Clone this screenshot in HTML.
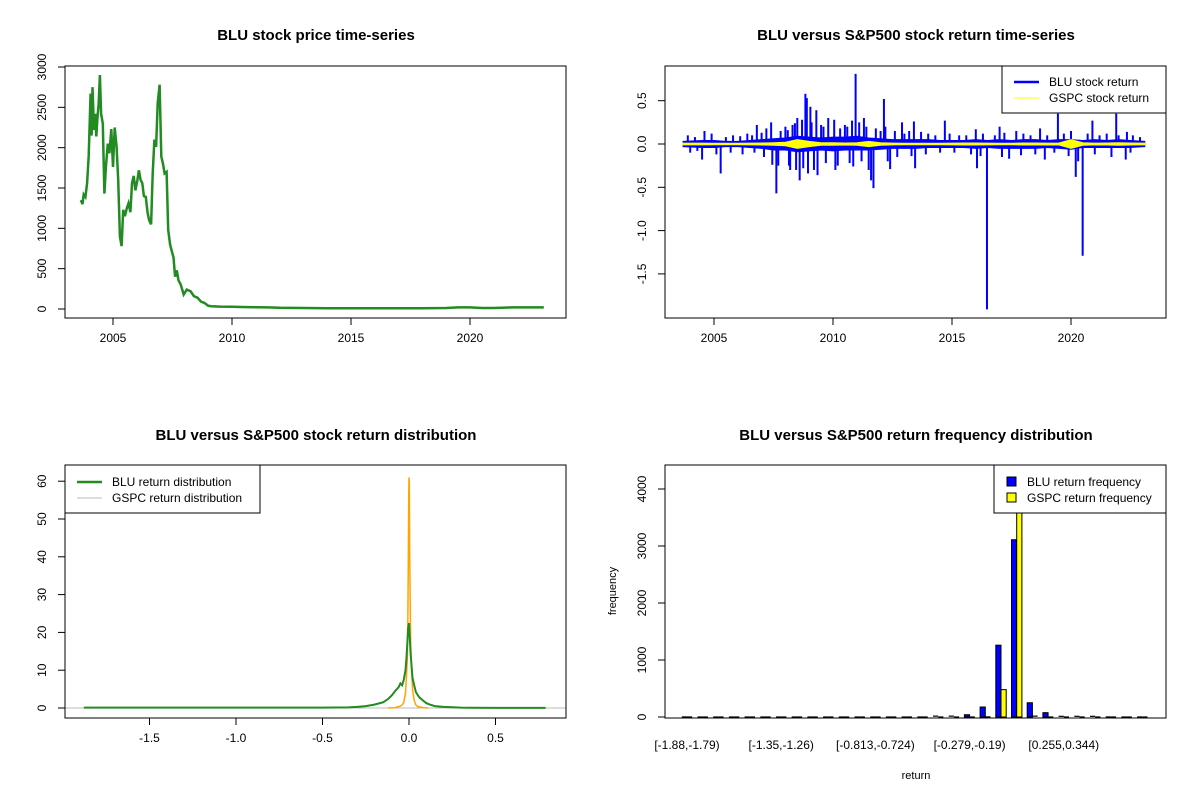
<!DOCTYPE html>
<html><head><meta charset="utf-8"><style>
body{margin:0;background:#fff}
svg{display:block;font-family:"Liberation Sans",Arial,sans-serif}
</style></head><body>
<svg id="c" width="1200" height="800" viewBox="0 0 1200 800"></svg>
<script>
// ---------- data ----------
const priceYears=[2003.65,2003.72,2003.77,2003.84,2003.91,2003.98,2004.06,2004.1,2004.14,2004.2,2004.25,2004.3,2004.35,2004.4,2004.45,2004.5,2004.57,2004.64,2004.7,2004.78,2004.85,2004.93,2005.0,2005.07,2005.15,2005.22,2005.29,2005.36,2005.43,2005.5,2005.58,2005.65,2005.73,2005.8,2005.87,2005.94,2006.02,2006.09,2006.16,2006.23,2006.3,2006.38,2006.45,2006.52,2006.6,2006.67,2006.74,2006.81,2006.88,2006.96,2007.03,2007.1,2007.17,2007.25,2007.32,2007.4,2007.46,2007.54,2007.61,2007.68,2007.75,2007.85,2007.97,2008.1,2008.26,2008.4,2008.55,2008.7,2008.84,2009.0,2009.13,2009.5,2010.0,2010.4,2011.0,2011.5,2012.0,2013.0,2014.0,2015.0,2016.0,2017.0,2018.0,2019.0,2019.5,2020.0,2020.5,2021.0,2021.8,2022.5,2023.1];
const priceVals=[1350,1300,1420,1390,1560,1900,2670,2150,2750,2220,2420,2140,2380,2550,2900,2420,2300,1430,1760,2050,1930,2230,1760,2250,2010,1600,900,780,1230,1150,1250,1310,1200,1560,1650,1470,1590,1720,1600,1560,1400,1390,1200,1100,1050,1680,2100,2010,2550,2780,1890,1800,1680,1700,980,800,730,640,400,480,360,300,180,240,220,160,140,90,75,40,35,30,28,25,22,20,15,12,10,10,10,10,10,12,20,20,12,12,20,20,20];

const retSpikeYears=[2010.95,2008.84,2008.9,2012.14,2009.05,2007.62,2005.28,2016.47,2020.49,2020.2,2011.7,2008.6,2019.45,2021.9,2016.05,2007.4,2010.8,2010.05,2013.4,2014.7,2020.9,2004.6,2006.8,2004.5,2011.6,2007.45,2010.1,2010.85,2013.45,2018.9,2022.3,2012.4,2017.4,2009.3,2008.4,2008.95,2009.35,2017.0,2018.7,2016.0,2022.35,2009.8,2011.3,2008.2,2012.9,
2003.9,2004.2,2004.9,2005.5,2005.8,2006.1,2006.4,2006.6,2007.0,2007.2,2007.8,2008.0,2008.1,2008.3,2008.5,2008.7,2009.1,2009.5,2009.6,2010.3,2010.5,2010.6,2011.1,2011.4,2011.8,2012.0,2012.2,2012.6,2013.0,2013.2,2013.7,2014.0,2014.3,2014.9,2015.3,2015.6,2016.3,2016.8,2017.2,2017.7,2018.0,2018.3,2019.0,2019.7,2020.0,2020.7,2021.2,2021.5,2022.0,2022.6,2022.9,
2004.0,2004.3,2005.1,2005.7,2006.2,2006.7,2007.1,2007.7,2008.15,2008.45,2008.75,2009.2,2009.7,2010.2,2010.7,2011.2,2011.5,2012.3,2012.7,2013.3,2013.9,2014.5,2015.1,2015.8,2016.2,2017.1,2017.9,2018.5,2019.3,2019.9,2020.3,2021.0,2021.7,2022.5];
const retSpikeVals=[0.81,0.58,0.53,0.52,0.43,-0.57,-0.34,-1.91,-1.29,-0.38,-0.51,-0.42,0.35,0.35,-0.28,0.25,0.27,0.28,0.26,0.27,0.27,0.15,0.22,-0.18,-0.42,-0.24,-0.30,-0.26,-0.28,-0.18,-0.18,-0.29,-0.17,0.39,0.24,-0.34,-0.36,0.20,0.18,0.17,0.14,0.3,0.3,-0.3,0.25,
0.1,0.08,0.12,0.08,0.1,0.09,0.12,0.1,0.13,0.18,0.15,0.2,0.16,0.22,0.3,0.28,0.25,0.22,0.2,0.18,0.22,0.2,0.25,0.2,0.18,0.15,0.2,0.15,0.12,0.15,0.14,0.12,0.1,0.12,0.1,0.1,0.12,0.1,0.13,0.15,0.12,0.1,0.1,0.12,0.15,0.12,0.1,0.12,0.1,0.1,0.08,
-0.1,-0.08,-0.12,-0.1,-0.12,-0.1,-0.15,-0.25,-0.25,-0.3,-0.28,-0.3,-0.22,-0.25,-0.22,-0.2,-0.3,-0.2,-0.15,-0.14,-0.12,-0.1,-0.1,-0.12,-0.14,-0.15,-0.13,-0.12,-0.1,-0.14,-0.2,-0.12,-0.15,-0.1];
const bandYears=[2003.7,2004.5,2005.0,2005.5,2006.0,2006.5,2007.0,2007.5,2008.0,2008.5,2009.0,2009.5,2010.0,2010.5,2011.0,2011.5,2012.0,2012.5,2013.0,2013.5,2014.0,2014.5,2015.0,2015.5,2016.0,2016.5,2017.0,2017.5,2018.0,2018.5,2019.0,2019.5,2020.0,2020.5,2021.0,2021.5,2022.0,2022.5,2023.1];
const bandHi=[0.03,0.04,0.04,0.03,0.03,0.04,0.05,0.06,0.07,0.09,0.08,0.07,0.08,0.08,0.09,0.07,0.06,0.05,0.05,0.05,0.05,0.04,0.04,0.04,0.05,0.04,0.05,0.04,0.05,0.05,0.04,0.05,0.05,0.04,0.05,0.04,0.05,0.04,0.03];
const bandLo=[-0.03,-0.04,-0.04,-0.03,-0.03,-0.04,-0.05,-0.07,-0.07,-0.09,-0.08,-0.07,-0.08,-0.07,-0.07,-0.07,-0.06,-0.05,-0.05,-0.05,-0.04,-0.04,-0.04,-0.04,-0.05,-0.04,-0.05,-0.05,-0.05,-0.05,-0.04,-0.05,-0.06,-0.04,-0.04,-0.04,-0.04,-0.04,-0.03];
const gspcAmp=[0.01,0.01,0.008,0.008,0.008,0.01,0.012,0.015,0.02,0.05,0.03,0.015,0.015,0.012,0.015,0.03,0.015,0.01,0.008,0.008,0.008,0.008,0.01,0.012,0.012,0.01,0.008,0.008,0.012,0.012,0.01,0.012,0.05,0.015,0.01,0.012,0.015,0.012,0.01];

const densX=[-1.88,-0.5,-0.35,-0.3,-0.25,-0.2,-0.15,-0.12,-0.1,-0.08,-0.06,-0.05,-0.04,-0.03,-0.02,-0.015,-0.01,-0.005,0,0.005,0.01,0.015,0.02,0.03,0.04,0.05,0.06,0.08,0.1,0.12,0.15,0.2,0.25,0.3,0.35,0.5,0.79];
const bluDens=[0.1,0.1,0.15,0.3,0.5,0.9,1.5,2.4,3.3,4.5,5.5,6.5,6.0,7.5,10,13,17,21,22.5,18,14,11,8,6,4.2,3.5,2.8,2.0,1.3,0.9,0.5,0.3,0.2,0.1,0.05,0.02,0.02];
const gspcX=[-0.12,-0.08,-0.05,-0.04,-0.03,-0.02,-0.015,-0.01,-0.007,-0.004,-0.002,0,0.002,0.004,0.007,0.01,0.015,0.02,0.03,0.04,0.05,0.08,0.11];
const gspcDens=[0,0.1,0.5,0.8,1.5,4,8,13,22,38,55,61,60,41,28,17,10,5,2,0.8,0.4,0.1,0];

const binLabels=["[-1.88,-1.79)","[-1.35,-1.26)","[-0.813,-0.724)","[-0.279,-0.19)","[0.255,0.344)"];
const bluFreq=[1,0,0,0,0,0,0,0,0,0,0,0,0,0,0,0,15,15,40,175,1260,3110,250,76,12,12,12,1,0,1];
const gspcFreq=[0,0,0,0,0,0,0,0,0,0,0,0,0,0,0,0,0,0,0,2,480,4900,15,0,0,0,0,0,0,0];

// ---------- helpers ----------
const svg=document.getElementById('c');
const NS='http://www.w3.org/2000/svg';
function mk(tag,attrs,parent){const e=document.createElementNS(NS,tag);for(const k in attrs)e.setAttribute(k,attrs[k]);(parent||svg).appendChild(e);return e;}
function txt(s,x,y,opt,name){const t=mk('text',Object.assign({x:x,y:y,'font-size':12,fill:'#000','text-anchor':'middle'},opt||{}));t.textContent=s;


return t;}
function box(x0,y0,x1,y1,name){const r=mk('rect',{x:x0,y:y0,width:x1-x0,height:y1-y0,fill:'none',stroke:'#000','stroke-width':1});


return r;}
function xTicks(vals,labels,sx,yb,name){vals.forEach((v,i)=>{const x=sx(v);const l=mk('line',{x1:x,x2:x,y1:yb,y2:yb+7,stroke:'#000'});


txt(labels[i],x,yb+24,{},name+'-label');});}
function yTicks(vals,labels,sy,xl,name){vals.forEach((v,i)=>{const y=sy(v);const l=mk('line',{x1:xl-7,x2:xl,y1:y,y2:y,stroke:'#000'});


txt(labels[i],xl-19,y,{transform:`rotate(-90 ${xl-19} ${y})`},name+'-label');});}
function poly(xs,ys,sx,sy,stroke,w,name){const p=mk('polyline',{points:xs.map((x,i)=>sx(x).toFixed(1)+','+sy(ys[i]).toFixed(1)).join(' '),fill:'none',stroke:stroke,'stroke-width':w,'stroke-linejoin':'miter'});


return p;}
function title(s,x,y,name){txt(s,x,y,{'font-size':15,'font-weight':'bold'},name);}

// ---------- panel 1: price ----------
{const sx=y=>113+(y-2005)*23.8, sy=v=>309-v*242/3000;
title('BLU stock price time-series',316,40,'price-title');
poly(priceYears,priceVals,sx,sy,'#228B22',2.5,'price-line');
box(65,66,566,318,'price-plot-frame');
xTicks([2005,2010,2015,2020],['2005','2010','2015','2020'],sx,318,'price-x-axis');
yTicks([0,500,1000,1500,2000,2500,3000],['0','500','1000','1500','2000','2500','3000'],sy,65,'price-y-axis');}

// ---------- panel 2: returns ----------
{const sx=y=>714+(y-2005)*23.8, sy=v=>144-v*86.6;
title('BLU versus S&P500 stock return time-series',916,40,'return-title');
const ptsB=bandYears.map((y,i)=>sx(y)+','+sy(bandHi[i])).concat(bandYears.slice().reverse().map((y,j)=>{const i=bandYears.length-1-j;return sx(y)+','+sy(bandLo[i]);}));
const b=mk('polygon',{points:ptsB.join(' '),fill:'#0000ff',stroke:'#0000ff','stroke-width':1});


retSpikeYears.forEach((y,i)=>{const l=mk('line',{x1:sx(y),x2:sx(y),y1:sy(0),y2:sy(retSpikeVals[i]),stroke:'#0000ff','stroke-width':2});

});
const ptsG=bandYears.map((y,i)=>sx(y)+','+sy(gspcAmp[i])).concat(bandYears.slice().reverse().map((y,j)=>{const i=bandYears.length-1-j;return sx(y)+','+sy(-gspcAmp[i]);}));
const g=mk('polygon',{points:ptsG.join(' '),fill:'#ffff00',stroke:'#ffff00','stroke-width':1});


box(665,66,1166,318,'return-plot-frame');
xTicks([2005,2010,2015,2020],['2005','2010','2015','2020'],sx,318,'return-x-axis');
yTicks([-1.5,-1,-0.5,0,0.5],['-1.5','-1.0','-0.5','0.0','0.5'],sy,665,'return-y-axis');
const lg=mk('rect',{x:1002,y:66,width:164,height:47,fill:'#fff',stroke:'#000'});


mk('line',{x1:1014,x2:1039,y1:82,y2:82,stroke:'#0000ff','stroke-width':2.5});
txt('BLU stock return',1049,86,{'text-anchor':'start'},'legend-blu-return');
mk('line',{x1:1014,x2:1039,y1:98,y2:98,stroke:'#ffff00','stroke-width':1});
txt('GSPC stock return',1049,102,{'text-anchor':'start'},'legend-gspc-return');}

// ---------- panel 3: density ----------
{const sx=v=>409+v*173, sy=v=>708-v*3.78;
title('BLU versus S&P500 stock return distribution',316,440,'density-title');
const gl=mk('line',{x1:65,x2:566,y1:sy(0),y2:sy(0),stroke:'#bbb'});


poly(gspcX,gspcDens,sx,sy,'#FFA500',1.5,'gspc-density-line');
poly(densX,bluDens,sx,sy,'#228B22',2,'blu-density-line');
box(65,465,566,718,'density-plot-frame');
xTicks([-1.5,-1,-0.5,0,0.5],['-1.5','-1.0','-0.5','0.0','0.5'],sx,718,'density-x-axis');
yTicks([0,10,20,30,40,50,60],['0','10','20','30','40','50','60'],sy,65,'density-y-axis');
const lg=mk('rect',{x:65,y:465,width:195,height:48,fill:'#fff',stroke:'#000'});


mk('line',{x1:77,x2:102,y1:482,y2:482,stroke:'#228B22','stroke-width':2.5});
txt('BLU return distribution',112,486,{'text-anchor':'start'},'legend-blu-density');
mk('line',{x1:77,x2:102,y1:498,y2:498,stroke:'#bbb','stroke-width':1});
txt('GSPC return distribution',112,502,{'text-anchor':'start'},'legend-gspc-density');}

// ---------- panel 4: histogram ----------
{const gx=i=>687+i*15.7, sy=v=>717-v*0.057, bw=5.2;
title('BLU versus S&P500 return frequency distribution',916,440,'frequency-title');
const cp=mk('clipPath',{id:'hc'});mk('rect',{x:665,y:466,width:501,height:252},cp);
const gg=mk('g',{'clip-path':'url(#hc)'});
function bar(x,v,fill,name){
 if(v*0.057<1){const l=mk('line',{x1:x,x2:x+bw,y1:sy(v),y2:sy(v),stroke:'#000','stroke-width':1.2},gg);
 
 }
 else{const r=mk('rect',{x:x,y:sy(v),width:bw,height:v*0.057,fill:fill,stroke:'#000','stroke-width':1},gg);
 
 }}
bluFreq.forEach((v,i)=>bar(gx(i)-bw,v,'#0000ff','blu-frequency-bar'));
gspcFreq.forEach((v,i)=>bar(gx(i),v,'#ffff00','gspc-frequency-bar'));
box(665,465,1166,718,'frequency-plot-frame');
binLabels.forEach((s,k)=>txt(s,gx(k*6),749,{},'frequency-x-label'));
yTicks([0,1000,2000,3000,4000],['0','1000','2000','3000','4000'],sy,665,'frequency-y-axis');
txt('frequency',616,591,{transform:'rotate(-90 616 591)','font-size':11},'frequency-y-title');
txt('return',916,779,{'font-size':11},'frequency-x-title');
const lg=mk('rect',{x:994,y:465,width:172,height:48,fill:'#fff',stroke:'#000'});


mk('rect',{x:1007,y:477,width:9,height:9,fill:'#0000ff',stroke:'#000'});
txt('BLU return frequency',1027,486,{'text-anchor':'start'},'legend-blu-frequency');
mk('rect',{x:1007,y:493,width:9,height:9,fill:'#ffff00',stroke:'#000'});
txt('GSPC return frequency',1027,502,{'text-anchor':'start'},'legend-gspc-frequency');}
</script>
</body></html>
